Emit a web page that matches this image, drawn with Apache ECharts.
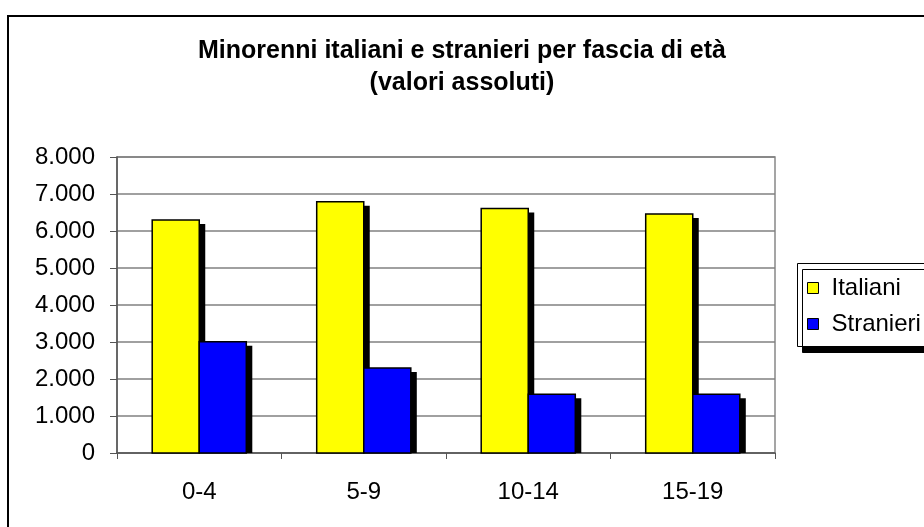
<!DOCTYPE html>
<html>
<head>
<meta charset="utf-8">
<script src="https://cdn.jsdelivr.net/npm/echarts@6/dist/echarts.min.js"></script>
<style>
  html, body { margin: 0; padding: 0; background: #fff; }
  #chart { width: 924px; height: 527px; }
</style>
</head>
<body>
<div id="chart"></div>
<script>
let ageGroups = ["0-4", "5-9", "10-14", "15-19"];
let italiani = [6300, 6790, 6610, 6460];
let stranieri = [3010, 2300, 1590, 1590];
let seriesNames = ["Italiani", "Stranieri"];
let yTicks = [0, 1000, 2000, 3000, 4000, 5000, 6000, 7000, 8000];

let font = "'Liberation Sans', Arial, sans-serif";
let barRatio = 0.286; // width of one bar, as part of the category band

/* 8000 -> 8.000 */
function itNumber(v) {
  return String(v).replace(/\B(?=(\d{3})+(?!\d))/g, ".");
}

/* bar with a hard black drop shadow, clipped at the zero line */
function barRenderer(slot, color) {
  return function (params, api) {
    let cat = api.value(0);
    let top = api.coord([cat, api.value(1)]);
    let base = api.coord([cat, 0]);
    let band = api.size([1, 0])[0];
    let w = band * barRatio;
    let x = top[0] + (slot - 1) * w;
    let h = base[1] - top[1];
    return {
      type: "group",
      children: [
        {
          type: "rect",
          shape: { x: x + 6, y: top[1] + 4, width: w, height: h - 4 },
          style: { fill: "#000" },
        },
        {
          type: "rect",
          shape: { x: x, y: top[1], width: w, height: h },
          style: { fill: color, stroke: "#000", lineWidth: 1.5 },
        },
      ],
    };
  };
}

let myChart = echarts.init(document.getElementById("chart"), null, { renderer: "canvas" });

let option = {
  animation: false,
  backgroundColor: "#fff",
  title: {
    text: "Minorenni italiani e stranieri per fascia di età\n(valori assoluti)",
    left: "center",
    top: 35,
    padding: 0,
    textStyle: {
      fontFamily: font,
      fontSize: 25,
      fontWeight: "bold",
      color: "#000",
      lineHeight: 32,
    },
  },
  graphic: [
    {
      // outer chart border (runs past the right and bottom edges)
      type: "rect",
      z: 0,
      shape: { x: 8, y: 16, width: 1000, height: 1000 },
      style: { fill: "none", stroke: "#000", lineWidth: 2 },
    },
    {
      // legend box with its drop shadow
      type: "rect",
      z: 10,
      shape: { x: 797.5, y: 263.5, width: 200, height: 83 },
      style: {
        fill: "#fff",
        stroke: "#000",
        lineWidth: 1,
        shadowColor: "#000",
        shadowBlur: 0,
        shadowOffsetX: 5,
        shadowOffsetY: 6,
      },
    },
  ],
  legend: {
    orient: "vertical",
    left: 807,
    top: 276,
    padding: 0,
    z: 20,
    itemWidth: 11,
    itemHeight: 11,
    itemGap: 12,
    icon: "rect",
    data: seriesNames,
    itemStyle: { borderColor: "#000", borderWidth: 1 },
    textStyle: {
      fontFamily: font,
      fontSize: 24,
      color: "#000",
      lineHeight: 24,
      padding: [0, 0, 0, 8],
    },
  },
  grid: {
    left: 117,
    top: 157,
    right: 149,
    bottom: 74,
    show: true,
    borderColor: "#888",
    borderWidth: 1.5,
  },
  xAxis: {
    type: "category",
    data: ageGroups,
    axisLine: { lineStyle: { color: "#555", width: 1.5 } },
    axisTick: { show: true, length: 6, lineStyle: { color: "#555" } },
    axisLabel: {
      fontFamily: font,
      fontSize: 24,
      color: "#000",
      margin: 27,
    },
  },
  yAxis: {
    type: "value",
    min: yTicks[0],
    max: yTicks[yTicks.length - 1],
    interval: yTicks[1] - yTicks[0],
    axisLine: { show: true, lineStyle: { color: "#555", width: 1.5 } },
    axisTick: { show: true, length: 7, lineStyle: { color: "#555" } },
    splitLine: { lineStyle: { color: "#808080", width: 1.5 } },
    axisLabel: {
      fontFamily: font,
      fontSize: 24,
      color: "#000",
      margin: 22,
      formatter: itNumber,
    },
  },
  series: [
    {
      name: seriesNames[0],
      type: "custom",
      renderItem: barRenderer(0, "#ffff00"),
      encode: { x: 0, y: 1 },
      itemStyle: { color: "#ffff00" },
      data: italiani.map(function (v, i) { return [i, v]; }),
    },
    {
      name: seriesNames[1],
      type: "custom",
      renderItem: barRenderer(1, "#0000ff"),
      encode: { x: 0, y: 1 },
      itemStyle: { color: "#0000ff" },
      data: stranieri.map(function (v, i) { return [i, v]; }),
    },
  ],
};

myChart.setOption(option);
</script>
</body>
</html>
